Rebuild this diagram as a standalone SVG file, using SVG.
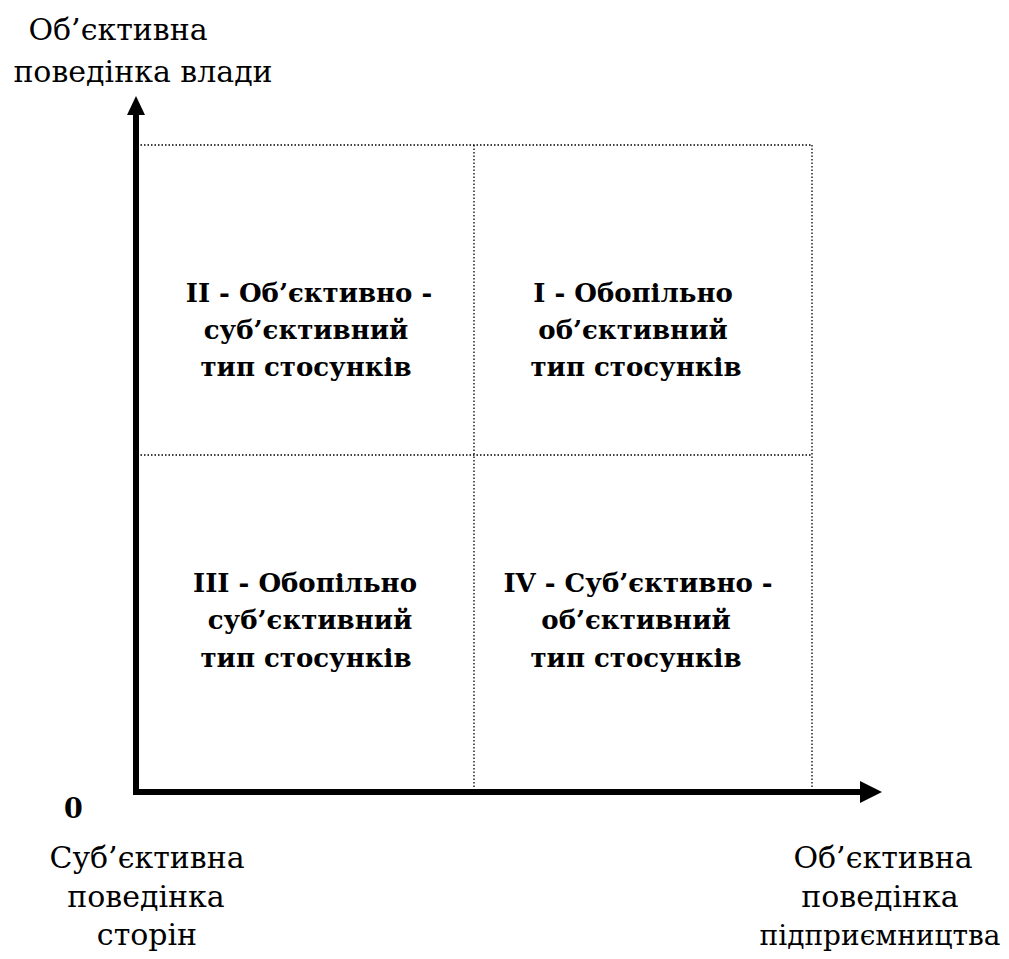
<svg xmlns="http://www.w3.org/2000/svg" width="1009" height="959" viewBox="0 0 1009 959">
  <style>
    .lbl { font-family: 'DejaVu Serif', serif; font-size: 30px; fill: #000; text-anchor: middle; }
    .lbl-s { font-size: 28px; }
    .q { font-family: 'DejaVu Serif', serif; font-size: 26px; font-weight: bold; fill: #000; text-anchor: middle; }
    .zero { font-family: 'DejaVu Serif', serif; font-size: 27px; font-weight: bold; fill: #000; }
    .grid { stroke: #000; stroke-width: 1.3; stroke-dasharray: 1.5 2; fill: none; }
    .axis { stroke: #000; stroke-width: 6; fill: none; }
  </style>
  <rect width="1009" height="959" fill="#fff"/>

  <!-- dotted quadrant grid -->
  <g id="grid">
    <line class="grid" x1="137" y1="145" x2="812" y2="145"/>
    <line class="grid" x1="137" y1="455" x2="812" y2="455"/>
    <line class="grid" x1="474" y1="145" x2="474" y2="792"/>
    <line class="grid" x1="812" y1="145" x2="812" y2="792"/>
  </g>

  <!-- axes -->
  <g id="connectors">
    <line class="axis" x1="136" y1="795" x2="136" y2="110"/>
    <polygon points="136,96 127,115 145,115" fill="#000"/>
    <line class="axis" x1="133" y1="792" x2="864" y2="792"/>
    <polygon points="882,792 860,781 860,803" fill="#000"/>
  </g>

  <g id="axis-y-label">
    <text class="lbl" x="118" y="40">Об’єктивна</text>
    <text class="lbl" x="143" y="82">поведінка влади</text>
  </g>
  <g id="origin">
    <text class="zero" x="64" y="818">0</text>
  </g>
  <g id="axis-x-low-label">
    <text class="lbl" x="147" y="868">Суб’єктивна</text>
    <text class="lbl" x="146" y="907">поведінка</text>
    <text class="lbl" x="147" y="945">сторін</text>
  </g>
  <g id="axis-x-high-label">
    <text class="lbl" x="883" y="868">Об’єктивна</text>
    <text class="lbl" x="880" y="907">поведінка</text>
    <text class="lbl lbl-s" x="880" y="945">підприємництва</text>
  </g>

  <g id="quadrant-2">
    <text class="q" x="309" y="302">II - Об’єктивно -</text>
    <text class="q" x="306" y="339">суб’єктивний</text>
    <text class="q" x="306" y="376">тип стосунків</text>
  </g>
  <g id="quadrant-1">
    <text class="q" x="633" y="302">I - Обопільно</text>
    <text class="q" x="633" y="339">об’єктивний</text>
    <text class="q" x="636" y="376">тип стосунків</text>
  </g>
  <g id="quadrant-3">
    <text class="q" x="305" y="592">III - Обопільно</text>
    <text class="q" x="310" y="629">суб’єктивний</text>
    <text class="q" x="306" y="667">тип стосунків</text>
  </g>
  <g id="quadrant-4">
    <text class="q" x="638" y="592">IV - Суб’єктивно -</text>
    <text class="q" x="636" y="629">об’єктивний</text>
    <text class="q" x="636" y="667">тип стосунків</text>
  </g>
</svg>
